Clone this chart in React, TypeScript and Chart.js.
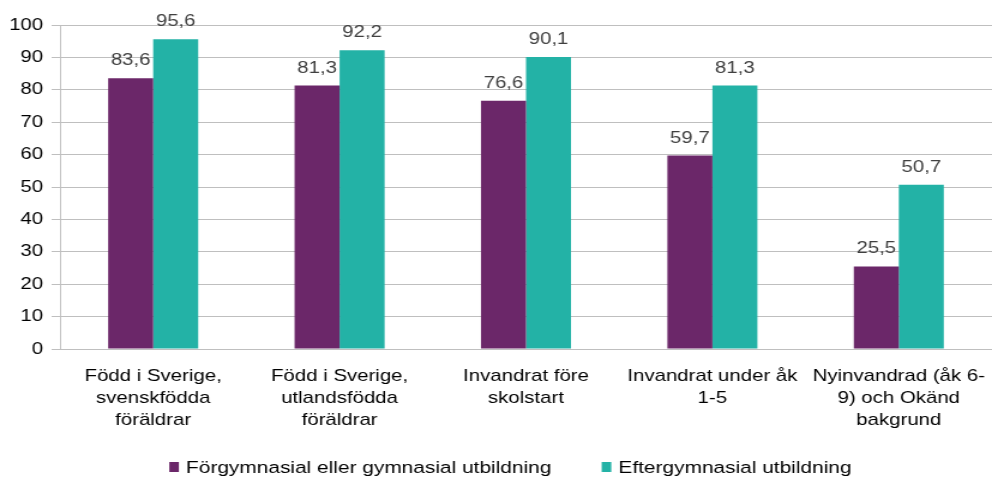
import React, { useEffect, useRef } from "react";
import { Chart, registerables } from "chart.js";

Chart.register(...registerables);

const categories: string[][] = [
  ["Född i Sverige,", "svenskfödda", "föräldrar"],
  ["Född i Sverige,", "utlandsfödda", "föräldrar"],
  ["Invandrat före", "skolstart"],
  ["Invandrat under åk", "1-5"],
  ["Nyinvandrad (åk 6-", "9) och Okänd", "bakgrund"],
];
const seriesNames: string[] = [
  "Förgymnasial eller gymnasial utbildning",
  "Eftergymnasial utbildning",
];
const forgymnasial: number[] = [83.6, 81.3, 76.6, 59.7, 25.5];
const eftergymnasial: number[] = [95.6, 92.2, 90.1, 81.3, 50.7];
const yTicks: number[] = [0, 10, 20, 30, 40, 50, 60, 70, 80, 90, 100];

const PURPLE = "#6B2769";
const TEAL = "#23B2A6";
const GRID = "#BFBFBF";
const FONT = "'Liberation Sans', Arial, sans-serif";

const INNER_W = 827;
const H = 479;
const OUTER_W = 992;

const valueLabels = {
  id: "valueLabels",
  afterDatasetsDraw(chart: any) {
    const ctx = chart.ctx;
    ctx.save();
    ctx.font = `17px ${FONT}`;
    ctx.fillStyle = "#404040";
    ctx.textAlign = "center";
    ctx.textBaseline = "alphabetic";
    chart.data.datasets.forEach((ds: any, i: number) => {
      const meta = chart.getDatasetMeta(i);
      meta.data.forEach((bar: any, j: number) => {
        const v = ds.data[j] as number;
        ctx.fillText(v.toFixed(1).replace(".", ","), bar.x, bar.y - 13);
      });
    });
    ctx.restore();
  },
};

const customLegend = {
  id: "customLegend",
  afterDraw(chart: any) {
    const ctx = chart.ctx;
    ctx.save();
    ctx.font = `17.4px ${FONT}`;
    ctx.textBaseline = "middle";
    ctx.textAlign = "left";
    const box = 8;
    const boxGap = 6;
    const itemGap = 42;
    const items = chart.data.datasets.map((ds: any) => ({
      label: ds.label as string,
      color: ds.backgroundColor as string,
      w: ctx.measureText(ds.label).width,
    }));
    const total =
      items.reduce((s: number, it: any) => s + box + boxGap + it.w, 0) +
      itemGap * (items.length - 1);
    let x = 425.5 - total / 2;
    const cy = 467;
    items.forEach((it: any) => {
      ctx.fillStyle = it.color;
      ctx.fillRect(x, cy - 5, box, 10);
      x += box + boxGap;
      ctx.fillStyle = "#000";
      ctx.fillText(it.label, x, cy + 1);
      x += it.w + itemGap;
    });
    ctx.restore();
  },
};

export default function App() {
  const ref = useRef<HTMLCanvasElement | null>(null);

  useEffect(() => {
    document.body.style.margin = "0";
    if (!ref.current) return;
    const chart = new Chart(ref.current, {
      type: "bar",
      data: {
        labels: categories as any,
        datasets: [
          {
            label: seriesNames[0],
            data: forgymnasial,
            backgroundColor: PURPLE,
            categoryPercentage: 0.483,
            barPercentage: 1,
          },
          {
            label: seriesNames[1],
            data: eftergymnasial,
            backgroundColor: TEAL,
            categoryPercentage: 0.483,
            barPercentage: 1,
          },
        ],
      },
      options: {
        responsive: false,
        animation: false,
        devicePixelRatio: 1,
        layout: { padding: { top: 25, left: 0, right: 0, bottom: 0 } },
        plugins: {
          legend: { display: false },
          tooltip: { enabled: false },
        },
        scales: {
          x: {
            grid: {
              display: true,
              drawOnChartArea: false,
              drawTicks: true,
              tickLength: 17,
              tickColor: "rgba(0,0,0,0)",
              color: "rgba(0,0,0,0)",
            },
            border: { display: false },
            ticks: {
              color: "#000",
              font: { family: FONT, size: 17, lineHeight: 1.27 },
              padding: 0,
              maxRotation: 0,
              autoSkip: false,
            },
            afterFit(scale: any) {
              scale.height = 130;
              scale.paddingLeft = 0;
              scale.paddingRight = 0;
            },
          },
          y: {
            min: 0,
            max: 100,
            afterBuildTicks(scale: any) {
              scale.ticks = yTicks.map((v) => ({ value: v }));
            },
            grid: { color: GRID, lineWidth: 1, tickLength: 7 },
            border: { display: true, color: GRID, width: 1 },
            ticks: {
              color: "#000",
              font: { family: FONT, size: 17 },
              padding: 7,
            },
            afterFit(scale: any) {
              scale.width = 50;
            },
          },
        },
      },
      plugins: [valueLabels, customLegend],
    });
    return () => chart.destroy();
  }, []);

  return (
    <div
      style={{
        position: "absolute",
        left: 0,
        top: 0,
        width: OUTER_W,
        height: H,
        overflow: "hidden",
        background: "#fff",
      }}
    >
      <div
        style={{
          width: INNER_W,
          height: H,
          transform: `scaleX(${OUTER_W / INNER_W})`,
          transformOrigin: "0 0",
        }}
      >
        <canvas
          ref={ref}
          width={INNER_W}
          height={H}
          style={{ width: INNER_W, height: H, display: "block" }}
        />
      </div>
    </div>
  );
}
